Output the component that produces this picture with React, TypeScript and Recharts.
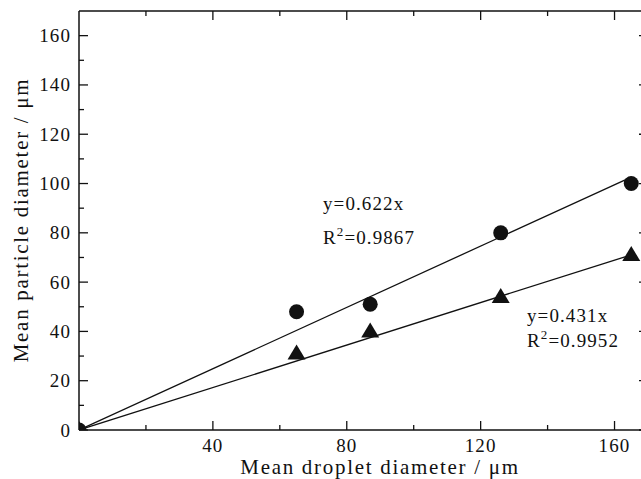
import { ComposedChart, Scatter, XAxis, YAxis } from "recharts";

// mean droplet diameter (µm) of each batch, origin included
const dropletSizes = [0, 65, 87, 126, 165];
// mean particle diameter (µm), circle series and triangle series
const circleParticles = [0, 48, 51, 80, 100];
const triangleParticles = [0, 31, 40, 54, 71];
// regression line end points [x, y]
const circleFit = [[0, 0], [165, 102.6]];
const triangleFit = [[0, 0], [165, 71.1]];

const xTicks = [20, 40, 60, 80, 100, 120, 140, 160];
const xLabelled = [40, 80, 120, 160];
const yTicks = [0, 10, 20, 30, 40, 50, 60, 70, 80, 90, 100, 110, 120, 130, 140, 150, 160];
const yLabelled = [0, 20, 40, 60, 80, 100, 120, 140, 160];

const circleData = dropletSizes.map((x, i) => ({ x, y: circleParticles[i] }));
const triangleData = dropletSizes.map((x, i) => ({ x, y: triangleParticles[i] }));
const circleLine = circleFit.map(([x, y]) => ({ x, y }));
const triangleLine = triangleFit.map(([x, y]) => ({ x, y }));

const INK = "#111";
const FONT = "'Liberation Serif', 'Times New Roman', serif";
const textStyle = { fontFamily: FONT, fontSize: 19, letterSpacing: 1.1, fill: INK };
const titleStyle = { ...textStyle, fontSize: 21, letterSpacing: 1.7 };

const tickLen = (v: number, labelled: number[]) => (labelled.includes(v) ? 9 : 5);

const BottomTick = ({ x, y, payload }: any) => (
  <g>
    <line x1={x} y1={y} x2={x} y2={y - tickLen(payload.value, xLabelled)} stroke={INK} strokeWidth={1.3} />
    {xLabelled.includes(payload.value) && (
      <text x={x} y={y + 22} textAnchor="middle" style={textStyle}>{payload.value}</text>
    )}
  </g>
);

const TopTick = ({ x, y, payload }: any) => (
  <line x1={x} y1={y} x2={x} y2={y + tickLen(payload.value, xLabelled)} stroke={INK} strokeWidth={1.3} />
);

const LeftTick = ({ x, y, payload }: any) => (
  <g>
    <line x1={x} y1={y} x2={x + tickLen(payload.value, yLabelled)} y2={y} stroke={INK} strokeWidth={1.3} />
    {yLabelled.includes(payload.value) && (
      <text x={x - 8} y={y + 6.5} textAnchor="end" style={textStyle}>{payload.value}</text>
    )}
  </g>
);

const RightTick = ({ x, y, payload }: any) => (
  <line x1={x} y1={y} x2={x - tickLen(payload.value, yLabelled)} y2={y} stroke={INK} strokeWidth={1.3} />
);

const Dot = ({ cx, cy }: any) => <circle cx={cx} cy={cy} r={7.5} fill={INK} />;
const Tri = ({ cx, cy }: any) => (
  <polygon points={`${cx},${cy - 9} ${cx - 9},${cy + 6} ${cx + 9},${cy + 6}`} fill={INK} />
);
const NoDot = () => <g />;

const axisLine = { stroke: INK, strokeWidth: 1.5 };
const common = {
  type: "number" as const,
  domain: [0, 170],
  interval: 0,
  allowDataOverflow: true,
  tickSize: 0,
  tickMargin: 0,
  tickLine: false,
  axisLine,
};

export default function App() {
  return (
    <div style={{ position: "fixed", left: 0, top: 0, width: 641, height: 479, overflow: "hidden", background: "#fff" }}>
      <ComposedChart width={650} height={479} margin={{ top: 10, right: 1, bottom: 48, left: 78 }}>
        <XAxis xAxisId="b" dataKey="x" ticks={xTicks} height={1} tick={BottomTick} {...common} />
        <XAxis xAxisId="t" orientation="top" dataKey="x" ticks={xTicks} height={1} tick={TopTick} {...common} />
        <YAxis yAxisId="l" dataKey="y" ticks={yTicks} width={1} tick={LeftTick} {...common} />
        <YAxis yAxisId="r" orientation="right" dataKey="y" ticks={yTicks} width={1} tick={RightTick} {...common} />
        <Scatter xAxisId="b" yAxisId="l" data={circleLine} line={{ stroke: INK, strokeWidth: 1.3 }} shape={NoDot} isAnimationActive={false} />
        <Scatter xAxisId="b" yAxisId="l" data={triangleLine} line={{ stroke: INK, strokeWidth: 1.3 }} shape={NoDot} isAnimationActive={false} />
        <Scatter xAxisId="b" yAxisId="l" data={circleData} shape={Dot} isAnimationActive={false} />
        <Scatter xAxisId="b" yAxisId="l" data={triangleData} shape={Tri} isAnimationActive={false} />

        <text x={323} y={210} style={textStyle}>y=0.622x</text>
        <text x={323} y={244} style={textStyle}>
          R<tspan fontSize={13} dy={-8}>2</tspan><tspan dy={8}>=0.9867</tspan>
        </text>
        <text x={527} y={322} style={textStyle}>y=0.431x</text>
        <text x={527} y={347} style={textStyle}>
          R<tspan fontSize={13} dy={-8}>2</tspan><tspan dy={8}>=0.9952</tspan>
        </text>
        <text x={380} y={474} textAnchor="middle" style={titleStyle}>Mean droplet diameter / μm</text>
        <text x={28} y={220} textAnchor="middle" transform="rotate(-90 28 220)" style={titleStyle}>
          Mean particle diameter / μm
        </text>
      </ComposedChart>
    </div>
  );
}
